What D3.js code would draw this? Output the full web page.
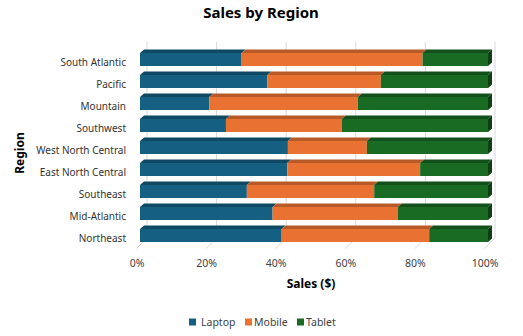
<!DOCTYPE html>
<html><head><meta charset="utf-8">
<script src="https://cdn.jsdelivr.net/npm/d3@7"></script>
<style>body{margin:0;background:#fff}svg{display:block;font-family:"Noto Sans",Inter,sans-serif}</style>
</head><body><svg id="c" width="523" height="336"></svg>
<script>
const categories = ["South Atlantic","Pacific","Mountain","Southwest","West North Central","East North Central","Southeast","Mid-Atlantic","Northeast"];
const laptop = [29.2, 36.6, 19.9, 24.7, 42.5, 42.3, 30.7, 38.1, 40.7];
const mobile = [52.0, 32.6, 42.7, 33.3, 22.7, 38.2, 36.6, 36.0, 42.4];
const tablet = [18.8, 30.8, 37.4, 42.0, 34.8, 19.5, 32.7, 25.9, 16.9];
const seriesNames = ["Laptop","Mobile","Tablet"];
const colors = ["#156082","#E97132","#196B24"];
const topColors = ["#0f4863","#b85a27","#124f1b"];
const sideColors = ["#0b3a50","#9c4b20","#0f3f15"];
const ticks = [0,0.2,0.4,0.6,0.8,1];

const svg = d3.select("#c");
const DX = 4, DY = -3.5;
const x = d3.scaleLinear().domain([0,1]).range([140,488]);
const y = d3.scaleBand().domain(categories).range([48.5,246.5]).paddingInner(0.41).paddingOuter(0.205);

// gridlines on back wall + floor
const g = svg.append("g");
ticks.forEach(t=>{
  const xb = x(t)+7, xf = x(t)-3.5;
  g.append("line").attr("x1",xb).attr("x2",xb).attr("y1",42).attr("y2",238).attr("stroke","#d9d9d9").attr("stroke-width",1);
  g.append("line").attr("x1",xf).attr("x2",xb).attr("y1",248.5).attr("y2",238).attr("stroke","#d9d9d9").attr("stroke-width",1);
});

// stacked data
const data = categories.map((c,i)=>{
  const vals=[laptop[i],mobile[i],tablet[i]];
  const tot=d3.sum(vals);
  let acc=0;
  return vals.map((v,k)=>{const s={cat:c,k,x0:acc/tot,x1:(acc+v)/tot};acc+=v;return s;});
});

const bars = svg.append("g");
data.forEach(row=>{
  row.forEach(s=>{
    const y0=y(s.cat), x0=x(s.x0), x1=x(s.x1), h=y.bandwidth();
    bars.append("path").attr("d",`M${x0},${y0}L${x0+DX},${y0+DY}L${x1+DX},${y0+DY}L${x1},${y0}Z`).attr("fill",topColors[s.k]);
    bars.append("rect").attr("x",x0).attr("y",y0).attr("width",x1-x0).attr("height",h).attr("fill",colors[s.k]);
    if(s.k===2){
      bars.append("path").attr("d",`M${x1},${y0}L${x1+DX},${y0+DY}L${x1+DX},${y0+h+DY}L${x1},${y0+h}Z`).attr("fill",sideColors[s.k]);
    }
  });
});

// category labels
svg.append("g").selectAll("text").data(categories).join("text")
  .attr("x",126).attr("y",d=>y(d)+y.bandwidth()/2+3).attr("dy","0.35em")
  .attr("text-anchor","end").attr("font-size",10).attr("fill","#333").text(d=>d);

// tick labels
svg.append("g").selectAll("text").data(ticks).join("text")
  .attr("x",d=>x(d)-3).attr("y",263).attr("dy","0.35em")
  .attr("text-anchor","middle").attr("font-size",10.5).attr("fill","#404040").text(d=>d3.format(".0%")(d));

// titles
svg.append("text").attr("x",261).attr("y",13).attr("dy","0.35em").attr("text-anchor","middle")
  .attr("font-size",15).attr("font-weight","bold").attr("fill","#000").text("Sales by Region");
svg.append("text").attr("x",311).attr("y",284).attr("dy","0.35em").attr("text-anchor","middle")
  .attr("font-size",12).attr("font-weight","bold").attr("fill","#000").text("Sales ($)");
svg.append("text").attr("transform","translate(20,153) rotate(-90)").attr("dy","0.35em").attr("text-anchor","middle")
  .attr("font-size",12).attr("font-weight","bold").attr("fill","#000").text("Region");

// legend
const legX=[189,245,297];
const leg=svg.append("g");
seriesNames.forEach((n,i)=>{
  leg.append("rect").attr("x",legX[i]).attr("y",318.5).attr("width",7).attr("height",7).attr("fill",colors[i]);
  leg.append("text").attr("x",legX[i]+(i===0?12:9)).attr("y",322).attr("dy","0.35em").attr("font-size",10.5).attr("fill","#404040").text(n);
});
</script></body></html>
